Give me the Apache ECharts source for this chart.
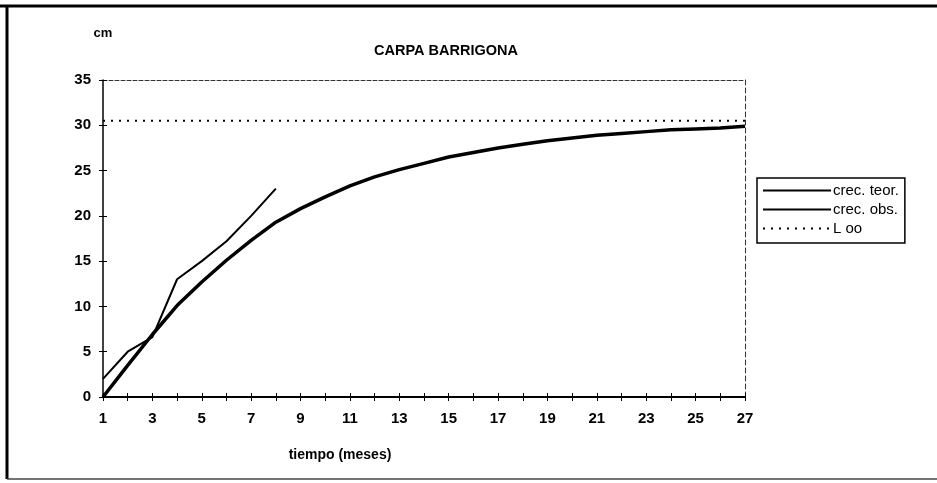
<!DOCTYPE html>
<html>
<head>
<meta charset="utf-8">
<script src="https://cdn.jsdelivr.net/npm/echarts@6/dist/echarts.min.js"></script>
<style>
  html, body { margin: 0; padding: 0; background: #fff; }
  #chart { width: 937px; height: 483px; }
</style>
</head>
<body>
<div id="chart"></div>
<script>
// Months on the horizontal axis
const months = ['1','2','3','4','5','6','7','8','9','10','11','12','13','14','15','16','17','18','19','20','21','22','23','24','25','26','27'];
// Theoretical growth curve (cm)
const crecTeor = [0, 3.5, 6.9, 10.1, 12.7, 15.1, 17.3, 19.3, 20.8, 22.1, 23.3, 24.3, 25.1, 25.8, 26.5, 27.0, 27.5, 27.9, 28.3, 28.6, 28.9, 29.1, 29.3, 29.5, 29.6, 29.7, 29.9];
// Observed growth (cm), first eight months
const crecObs = [2, 5, 6.6, 13, 15, 17.2, 20, 23];
// Asymptotic length L∞ (cm)
const lInf = [30.5, 30.5, 30.5, 30.5, 30.5, 30.5, 30.5, 30.5, 30.5, 30.5, 30.5, 30.5, 30.5, 30.5, 30.5, 30.5, 30.5, 30.5, 30.5, 30.5, 30.5, 30.5, 30.5, 30.5, 30.5, 30.5, 30.5];

const FONT = 'Liberation Sans, Arial, sans-serif';
const chart = echarts.init(document.getElementById('chart'));

// hidden helper axes: frame lines and inner halves of the tick marks
const hiddenLabel = { show: false };

chart.setOption({
  backgroundColor: '#ffffff',
  animation: false,
  title: [
    { text: 'CARPA BARRIGONA', left: 441, top: 38, textAlign: 'center',
      textStyle: { fontFamily: FONT, fontSize: 14.5, fontWeight: 'bold', color: '#000' } },
    { text: 'tiempo (meses)', left: 335, top: 443, textAlign: 'center',
      textStyle: { fontFamily: FONT, fontSize: 14, fontWeight: 'bold', color: '#000', letterSpacing: 0.8 } }
  ],
  legend: {
    orient: 'vertical',
    left: 757,
    top: 178,
    itemWidth: 68,
    itemHeight: 10,
    itemGap: 4,
    padding: [5, 6, 7, 5],
    borderColor: '#000',
    borderWidth: 1.5,
    backgroundColor: '#fff',
    itemStyle: { color: 'transparent', borderWidth: 0, opacity: 0 },
    textStyle: { fontFamily: FONT, fontSize: 15, color: '#000', padding: [0, 0, 0, -3], letterSpacing: 1.6 },
    data: ['crec. teor.', 'crec. obs.', 'L oo']
  },
  grid: { left: 103, right: 192, top: 80, bottom: 86, containLabel: false },
  xAxis: [
    {
      type: 'category',
      data: months,
      boundaryGap: false,
      axisLine: { lineStyle: { color: '#000', width: 2 } },
      axisTick: { show: true, interval: 0, length: 4, lineStyle: { color: '#000', width: 1 } },
      axisLabel: { interval: 1, margin: 14, fontFamily: FONT, fontSize: 15, fontWeight: 'bold', color: '#000' },
      splitLine: { show: false }
    },
    {
      type: 'category',
      data: months,
      boundaryGap: false,
      position: 'top',
      axisLine: { onZero: false, lineStyle: { color: '#333', width: 1, type: [4, 2] } },
      axisTick: { show: false },
      axisLabel: hiddenLabel,
      splitLine: { show: false }
    },
    {
      type: 'category',
      data: months,
      boundaryGap: false,
      position: 'bottom',
      axisLine: { show: false },
      axisTick: { show: true, inside: true, interval: 0, length: 4, lineStyle: { color: '#000', width: 1 } },
      axisLabel: hiddenLabel,
      splitLine: { show: false }
    }
  ],
  yAxis: [
    {
      type: 'value',
      min: 0,
      max: 35,
      interval: 5,
      name: 'cm',
      nameLocation: 'end',
      nameGap: 40,
      nameTextStyle: { fontFamily: FONT, fontSize: 13, fontWeight: 'bold', color: '#000', align: 'center' },
      axisLine: { show: true, lineStyle: { color: '#000', width: 1.5 } },
      axisTick: { show: true, length: 4, lineStyle: { color: '#000', width: 1 } },
      axisLabel: { margin: 12, fontFamily: FONT, fontSize: 15, fontWeight: 'bold', color: '#000' },
      splitLine: { show: false }
    },
    {
      type: 'value',
      min: 0,
      max: 35,
      interval: 5,
      position: 'right',
      axisLine: { show: true, onZero: false, lineStyle: { color: '#333', width: 1, type: [5, 3] } },
      axisTick: { show: false },
      axisLabel: hiddenLabel,
      splitLine: { show: false }
    },
    {
      type: 'value',
      min: 0,
      max: 35,
      interval: 5,
      position: 'left',
      axisLine: { show: false },
      axisTick: { show: true, inside: true, length: 4, lineStyle: { color: '#000', width: 1 } },
      axisLabel: hiddenLabel,
      splitLine: { show: false }
    }
  ],
  series: [
    {
      name: 'crec. teor.',
      type: 'line',
      data: crecTeor,
      showSymbol: false,
      symbol: 'none',
      lineStyle: { color: '#000', width: 3.5 },
      itemStyle: { color: '#000' },
      z: 3
    },
    {
      name: 'crec. obs.',
      type: 'line',
      data: crecObs,
      showSymbol: false,
      symbol: 'none',
      lineStyle: { color: '#000', width: 2 },
      itemStyle: { color: '#000' },
      z: 4
    },
    {
      name: 'L oo',
      type: 'line',
      data: lInf,
      showSymbol: false,
      symbol: 'none',
      lineStyle: { color: '#000', width: 2, type: [2, 6] },
      itemStyle: { color: '#000' },
      z: 2
    }
  ],
  graphic: [
    // page frame
    { type: 'line', shape: { x1: 0, y1: 6, x2: 937, y2: 6 }, style: { stroke: '#000', lineWidth: 3 } },
    { type: 'line', shape: { x1: 7, y1: 5, x2: 7, y2: 479 }, style: { stroke: '#000', lineWidth: 3 } },
    { type: 'line', shape: { x1: 7, y1: 479, x2: 937, y2: 479 }, style: { stroke: '#444', lineWidth: 1.5 } }
  ]
});
</script>
</body>
</html>
